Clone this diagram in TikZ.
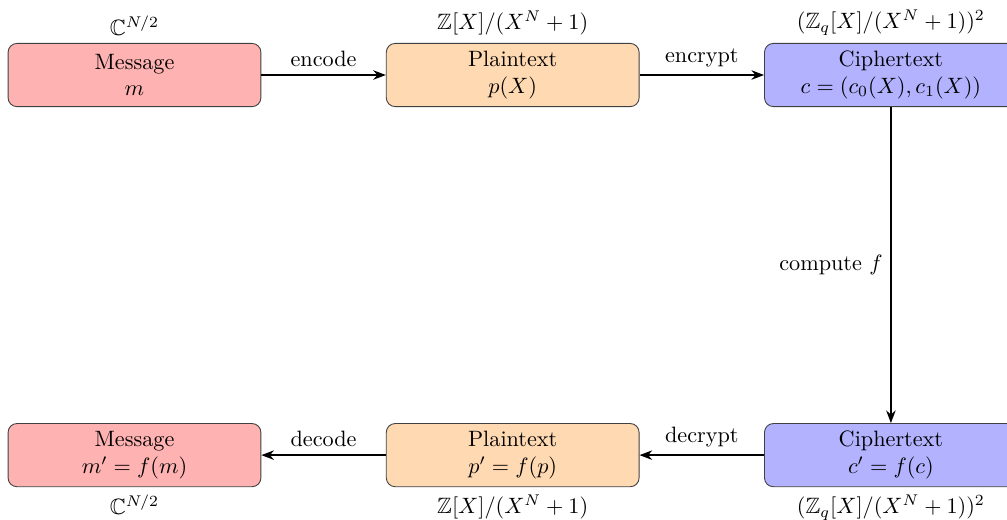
\documentclass[tikz,border=0pt]{standalone}
\usepackage{amsmath,amssymb}
\usetikzlibrary{arrows.meta,positioning}

\begin{document}
\begin{tikzpicture}[
  font=\normalsize,
  >={Stealth[length=2mm]},
  box/.style={rounded corners=4pt,draw=black!75,align=center,minimum height=1cm,minimum width=4cm,inner sep=3pt,line width=0.4pt},
  msg/.style={box,fill=red!30},
  plain/.style={box,fill=orange!30},
  cipher/.style={box,fill=blue!30},
  flow/.style={->,thick},
]
\useasboundingbox (-2.128,1.187) rectangle (13.805,-7.025);

\node[msg,label={above:$\mathbb{C}^{N/2}$}] (msg) {Message\\$m$};
\node[plain,right=1.97cm of msg,label={above:$\mathbb{Z}[X]/(X^N+1)$}] (pt) {Plaintext\\$p(X)$};
\node[cipher,right=1.97cm of pt,label={above:$(\mathbb{Z}_q[X]/(X^N+1))^2$}] (ct) {Ciphertext\\$c=(c_0(X),c_1(X))$};

\node[cipher,below=5cm of ct,label={below:$(\mathbb{Z}_q[X]/(X^N+1))^2$}] (ct2) {Ciphertext\\$c'=f(c)$};
\node[plain,below=5cm of pt,label={below:$\mathbb{Z}[X]/(X^N+1)$}] (pt2) {Plaintext\\$p'=f(p)$};
\node[msg,below=5cm of msg,label={below:$\mathbb{C}^{N/2}$}] (msg2) {Message\\$m'=f(m)$};

\draw[flow] (msg) -- node[above]{encode} (pt);
\draw[flow] (pt) -- node[above]{encrypt} (ct);
\draw[flow] (ct) -- node[left]{compute $f$} (ct2);
\draw[flow] (ct2) -- node[above]{decrypt} (pt2);
\draw[flow] (pt2) -- node[above]{decode} (msg2);
\end{tikzpicture}
\end{document}
